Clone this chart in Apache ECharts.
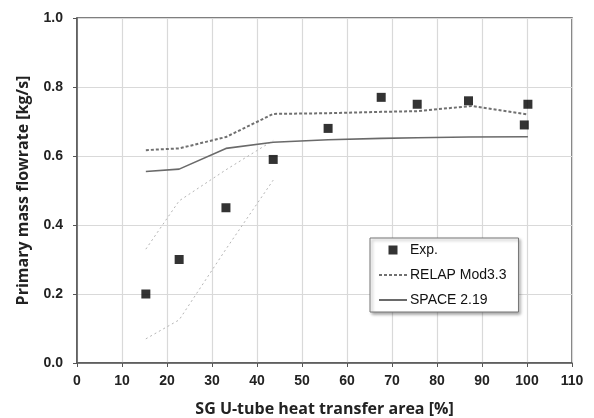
<!DOCTYPE html>
<html>
<head>
<meta charset="utf-8">
<script src="https://cdn.jsdelivr.net/npm/echarts@6/dist/echarts.min.js"></script>
<style>
  html, body { margin: 0; padding: 0; background: #fff; }
  #chart { width: 594px; height: 418px; }
</style>
</head>
<body>
<div id="chart"></div>
<script>
/* data */
const expX = [15.3, 22.7, 33.1, 43.6, 55.8, 67.6, 75.6, 87.0, 100.2, 99.4];
const expY = [0.20, 0.30, 0.45, 0.59, 0.68, 0.77, 0.75, 0.76, 0.75, 0.69];

const relapX = [15.3, 22.7, 33.1, 43.6, 55.8, 67.6, 75.6, 87.7, 100.0];
const relapY = [0.617, 0.622, 0.655, 0.722, 0.724, 0.728, 0.730, 0.745, 0.721];

const spaceX = [15.3, 22.7, 33.1, 43.6, 55.8, 67.6, 75.6, 87.0, 100.2];
const spaceY = [0.555, 0.562, 0.622, 0.640, 0.647, 0.651, 0.653, 0.655, 0.656];

const bandX = [15.3, 22.7, 33.1, 43.6];
const bandUpperY = [0.33, 0.47, 0.56, 0.645];
const bandLowerY = [0.07, 0.125, 0.33, 0.53];

const pairs = (xs, ys) => xs.map((x, i) => [x, ys[i]]);

const TICK_FONT = { fontFamily: "Liberation Sans", fontWeight: "bold", fontSize: 14, color: "#222" };
const TITLE_FONT = { fontFamily: "Open Sans", fontWeight: "bold", fontSize: 16, color: "#222" };

// small square centred in the 28x12 legend icon box
const EXP_ICON = "path://M0 0Z M28 12Z M9.5 1.5H18.5V10.5H9.5Z";

const chart = echarts.init(document.getElementById("chart"), null, { renderer: "canvas" });

chart.setOption({
  animation: false,
  backgroundColor: "#fff",
  grid: {
    left: 77, right: 22, top: 18, bottom: 55,
    outerBoundsMode: "none",
    show: true, borderColor: "#555", borderWidth: 1.5,
  },
  xAxis: {
    type: "value",
    min: 0, max: 110, interval: 10,
    name: "SG U-tube heat transfer area [%]",
    nameLocation: "middle",
    nameGap: 38,
    nameTextStyle: TITLE_FONT,
    axisLine: { show: true, lineStyle: { color: "#555", width: 1.5 } },
    axisTick: { show: true, length: 4, lineStyle: { color: "#555" } },
    axisLabel: { ...TICK_FONT, margin: 11 },
    splitLine: { show: true, lineStyle: { color: "#d9d9d9", width: 1.2 } },
  },
  yAxis: {
    type: "value",
    min: 0, max: 1, interval: 0.2,
    name: "Primary mass flowrate [kg/s]",
    nameLocation: "middle",
    nameGap: 46,
    nameTextStyle: TITLE_FONT,
    axisLine: { show: true, lineStyle: { color: "#555", width: 1.5 } },
    axisTick: { show: true, length: 4, lineStyle: { color: "#555" } },
    axisLabel: { ...TICK_FONT, margin: 14, formatter: (v) => v.toFixed(1) },
    splitLine: { show: true, lineStyle: { color: "#d9d9d9", width: 1.2 } },
  },
  legend: {
    orient: "vertical",
    left: 370, top: 238,
    data: [
      { name: "Exp.", icon: EXP_ICON },
      { name: "RELAP Mod3.3", itemStyle: { opacity: 0 } },
      { name: "SPACE 2.19", itemStyle: { opacity: 0 } },
    ],
    backgroundColor: "#fff",
    borderColor: "#777",
    borderWidth: 1,
    borderRadius: 0,
    shadowColor: "rgba(0,0,0,0.35)",
    shadowBlur: 3,
    shadowOffsetX: 2,
    shadowOffsetY: 2,
    padding: [5, 12, 5, 8],
    itemWidth: 28,
    itemHeight: 12,
    itemGap: 11,
    textStyle: { fontFamily: "Liberation Sans", fontSize: 14, color: "#111", padding: [0, 0, 0, -2] },
  },
  series: [
    {
      name: "Upper band", type: "line", data: pairs(bandX, bandUpperY),
      symbol: "none", silent: true,
      lineStyle: { color: "#b5b5b5", width: 1, type: [2, 3] },
    },
    {
      name: "Lower band", type: "line", data: pairs(bandX, bandLowerY),
      symbol: "none", silent: true,
      lineStyle: { color: "#b5b5b5", width: 1, type: [2, 3] },
    },
    {
      name: "RELAP Mod3.3", type: "line", data: pairs(relapX, relapY),
      symbol: "none",
      itemStyle: { color: "#707070" },
      lineStyle: { color: "#707070", width: 2, type: [3, 2] },
    },
    {
      name: "SPACE 2.19", type: "line", data: pairs(spaceX, spaceY),
      symbol: "none",
      itemStyle: { color: "#6a6a6a" },
      lineStyle: { color: "#6a6a6a", width: 1.6 },
    },
    {
      name: "Exp.", type: "scatter", data: pairs(expX, expY),
      symbol: "rect", symbolSize: 9,
      itemStyle: { color: "#000" },
    },
  ],
});
</script>
</body>
</html>
